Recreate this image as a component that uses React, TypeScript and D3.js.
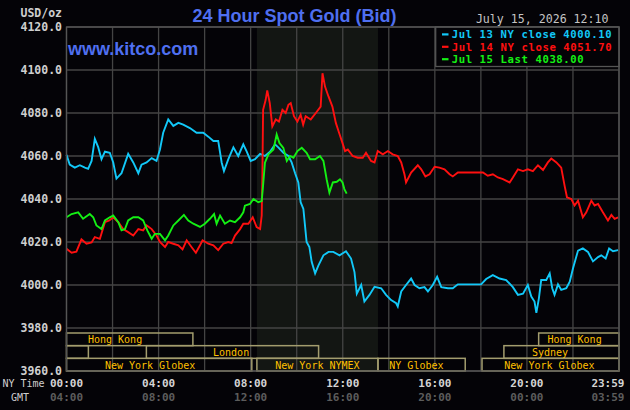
import { useEffect, useRef } from "react";
import * as d3 from "d3";

type Pt = [number, number]; // [NY hour, USD/oz]

const jul13: Pt[] = [
  [0, 4060.5], [0.14, 4056], [0.36, 4054.6], [0.58, 4055.7], [0.8, 4054.6], [0.94, 4054],
  [1.09, 4057.7], [1.23, 4068], [1.38, 4064], [1.52, 4058.5], [1.67, 4062], [1.88, 4061.5],
  [2.03, 4057], [2.17, 4049.5], [2.39, 4052], [2.68, 4061], [2.9, 4057], [3.12, 4052],
  [3.26, 4056], [3.48, 4057], [3.7, 4059], [3.91, 4057.7], [4.06, 4063], [4.2, 4070.8],
  [4.42, 4077], [4.64, 4074], [4.86, 4075.4], [5.07, 4074.6], [5.36, 4073], [5.65, 4070.8],
  [5.94, 4070.8], [6.16, 4069], [6.38, 4067], [6.59, 4067], [6.74, 4057], [6.84, 4053],
  [7.03, 4058.5], [7.25, 4064], [7.46, 4060], [7.68, 4065.4], [7.83, 4062], [8.0, 4057.7],
  [8.19, 4058.5], [8.41, 4061], [8.62, 4060], [8.84, 4062], [9.06, 4065.4], [9.2, 4064],
  [9.42, 4061.5], [9.64, 4060], [9.78, 4057], [9.93, 4052], [10.07, 4047.7], [10.17, 4038.5],
  [10.29, 4035.4], [10.43, 4020], [10.55, 4017.7], [10.65, 4010.8], [10.8, 4005.4], [10.94, 4009],
  [11.16, 4013.8], [11.38, 4015.4], [11.59, 4015.4], [11.86, 4013.8], [12.14, 4015.7], [12.36, 4012.3],
  [12.51, 4006], [12.61, 3996], [12.8, 4000], [12.94, 3992.3], [13.16, 3995.4], [13.38, 3999.2],
  [13.67, 3998.5], [13.88, 3995.4], [14.1, 3993], [14.32, 3991.5], [14.39, 3990], [14.54, 3997],
  [14.75, 4000], [14.97, 4003], [15.12, 4000], [15.33, 3998.5], [15.55, 3999], [15.7, 3997],
  [15.91, 4000], [16.1, 4003.8], [16.28, 3999], [16.57, 3998.5], [16.78, 3998.5], [17.0, 4000.3],
  [18.01, 4000.3], [18.23, 4002.8], [18.52, 4004.6], [18.81, 4003], [19.1, 4002.3], [19.39, 3999],
  [19.61, 3995.4], [19.83, 3996], [20.04, 4000], [20.19, 3994.6], [20.33, 3992.3], [20.41, 3987],
  [20.52, 3993.8], [20.62, 4002.3], [20.84, 4002.3], [20.99, 4005.4], [21.1, 3998.5], [21.2, 3995.4],
  [21.35, 4000.3], [21.49, 3997.7], [21.71, 3998.5], [21.86, 4001.5], [22.0, 4007.7], [22.22, 4016],
  [22.43, 4017], [22.65, 4015.4], [22.87, 4011], [23.09, 4013], [23.23, 4013.8], [23.42, 4012.3],
  [23.57, 4017], [23.74, 4015.7], [23.96, 4016.2],
];

const jul14: Pt[] = [
  [0, 4016.9], [0.22, 4015], [0.43, 4015.5], [0.65, 4021.2], [0.87, 4019.2], [1.09, 4019.8],
  [1.23, 4022.3], [1.45, 4021.5], [1.67, 4029.2], [1.86, 4030], [2.03, 4031.5], [2.25, 4029.2],
  [2.46, 4026], [2.68, 4024.6], [2.9, 4023], [3.12, 4026], [3.33, 4025.4], [3.48, 4027.7],
  [3.7, 4026], [3.91, 4023], [4.06, 4020], [4.28, 4017.7], [4.42, 4020], [4.64, 4019.2],
  [4.86, 4018.5], [5.04, 4016.6], [5.22, 4020.8], [5.43, 4017.7], [5.62, 4015], [5.8, 4018.5],
  [5.91, 4020.8], [6.16, 4019.2], [6.38, 4018.5], [6.59, 4016.2], [6.81, 4019.2], [7.03, 4020],
  [7.17, 4019.5], [7.32, 4023], [7.54, 4026], [7.68, 4028.5], [7.9, 4028.5], [8.09, 4031.5],
  [8.26, 4026.9], [8.41, 4026], [8.48, 4032.3], [8.51, 4052], [8.54, 4081.5], [8.65, 4086],
  [8.72, 4090.5], [8.83, 4084.6], [8.94, 4073.8], [9.09, 4077], [9.23, 4076], [9.38, 4081.5],
  [9.52, 4080], [9.64, 4083.8], [9.74, 4084.6], [9.88, 4078.5], [10.03, 4076], [10.17, 4079.2],
  [10.28, 4074.6], [10.39, 4078.5], [10.61, 4077], [10.83, 4080], [11.04, 4083], [11.12, 4098.5],
  [11.23, 4092.3], [11.38, 4087.7], [11.55, 4083], [11.7, 4075.4], [11.84, 4070.8], [11.99, 4066],
  [12.1, 4062.3], [12.22, 4063], [12.43, 4060], [12.65, 4059.2], [12.87, 4059.2], [13.01, 4061.5],
  [13.23, 4057.7], [13.38, 4057], [13.52, 4062.3], [13.74, 4060.8], [13.96, 4062.3], [14.17, 4060.8],
  [14.39, 4060], [14.54, 4057], [14.68, 4051.5], [14.75, 4047.7], [14.97, 4052.3], [15.26, 4055.7],
  [15.41, 4053.8], [15.59, 4050.5], [15.77, 4051.5], [15.99, 4055], [16.2, 4054.6], [16.42, 4053.8],
  [16.64, 4051.5], [16.78, 4050.5], [17.0, 4052.3], [18.09, 4052.3], [18.3, 4050.8], [18.52, 4051.5],
  [18.74, 4050], [18.96, 4049.2], [19.25, 4047.7], [19.39, 4050], [19.61, 4053.8], [19.83, 4053],
  [20.04, 4053.8], [20.26, 4053], [20.48, 4055.7], [20.7, 4053.5], [20.91, 4057], [21.06, 4058.8],
  [21.28, 4057], [21.49, 4054.6], [21.64, 4046], [21.74, 4040.8], [21.93, 4040], [22.07, 4037],
  [22.22, 4039.2], [22.43, 4031.5], [22.58, 4033.8], [22.8, 4039.2], [22.94, 4037], [23.09, 4037.7],
  [23.3, 4033.8], [23.52, 4030], [23.67, 4032.6], [23.81, 4030.8], [23.96, 4031.5],
];

const jul15: Pt[] = [
  [0, 4031.5], [0.22, 4033], [0.51, 4033.8], [0.72, 4030.8], [1.01, 4033], [1.16, 4031.5],
  [1.3, 4027.7], [1.52, 4026], [1.67, 4030], [1.88, 4031.5], [2.03, 4032.3], [2.25, 4029.2],
  [2.39, 4025.4], [2.54, 4026], [2.68, 4030], [2.9, 4031.5], [3.12, 4031.5], [3.33, 4030],
  [3.51, 4025.4], [3.7, 4021.5], [3.84, 4023.8], [4.06, 4023.8], [4.28, 4020.8], [4.42, 4023],
  [4.64, 4027.7], [4.86, 4030], [5.1, 4032.6], [5.29, 4030], [5.51, 4028.5], [5.8, 4027],
  [6.01, 4028.5], [6.23, 4030.8], [6.41, 4033], [6.52, 4028.5], [6.67, 4032.3], [6.88, 4028.5],
  [7.1, 4030], [7.32, 4029.2], [7.54, 4031.5], [7.68, 4033.8], [7.75, 4036.9], [7.97, 4037.7],
  [8.12, 4040], [8.33, 4038.5], [8.48, 4039], [8.55, 4047.7], [8.62, 4056.9], [8.77, 4060.8],
  [8.99, 4063], [9.13, 4070], [9.25, 4066], [9.42, 4063.8], [9.57, 4057.7], [9.71, 4060],
  [9.86, 4059.2], [10.03, 4062.3], [10.22, 4063.8], [10.43, 4061.5], [10.58, 4058.5], [10.8, 4058.5],
  [11.01, 4060], [11.16, 4057.7], [11.3, 4049.2], [11.42, 4043], [11.57, 4047.7], [11.74, 4048],
  [11.88, 4049.2], [11.99, 4047.7], [12.07, 4044.6], [12.17, 4042.5],
];

const legendItems = [
  { label: "Jul 13 NY close 4000.10", color: "#12c8f8" },
  { label: "Jul 14 NY close 4051.70", color: "#ff1010" },
  { label: "Jul 15 Last 4038.00", color: "#14f014" },
];

const priceTicks = [3960, 3980, 4000, 4020, 4040, 4060, 4080, 4100, 4120];
const gridHours = [0, 2, 4, 6, 8, 10, 12, 14, 16, 18, 20, 22, 24];
const labelHours = [0, 4, 8, 12, 16, 20, 24];
const nyLabels = ["00:00", "04:00", "08:00", "12:00", "16:00", "20:00", "23:59"];
const gmtLabels = ["04:00", "08:00", "12:00", "16:00", "20:00", "00:00", "03:59"];

// trading sessions: row 0 = top band
const sessions = [
  { name: "Hong Kong", row: 0, start: 0, end: 5.49, labelAt: 2.11 },
  { name: "Hong Kong", row: 0, start: 20.51, end: 24, labelAt: 22.07 },
  { name: "", row: 1, start: 0, end: 0.95, labelAt: 0 },
  { name: "London", row: 1, start: 3.47, end: 10.95, labelAt: 7.15 },
  { name: "Sydney", row: 1, start: 19, end: 24, labelAt: 21.0 },
  { name: "New York Globex", row: 2, start: 0, end: 8.05, labelAt: 3.63 },
  { name: "New York NYMEX", row: 2, start: 8.27, end: 13.53, labelAt: 10.9 },
  { name: "NY Globex", row: 2, start: 13.53, end: 17.32, labelAt: 15.2 },
  { name: "New York Globex", row: 2, start: 18.05, end: 24, labelAt: 20.98 },
];
const nymexShade = [8.27, 13.53];

const GoldChart = () => {
  const svgRef = useRef<SVGSVGElement>(null);

  useEffect(() => {
    if (!svgRef.current) return;
    const width = 630;
    const height = 410;
    const left = 66.5;
    const right = 619;
    const top = 27;
    const bottom = 371;
    const bg = "#040307";
    const grid = "#444444";
    const mono = "'DejaVu Sans Mono', 'Liberation Mono', monospace";
    const sans = "'Liberation Sans', Arial, sans-serif";

    const svg = d3.select(svgRef.current);
    svg.selectAll("*").remove();
    svg.attr("width", width).attr("height", height);

    const x = d3.scaleLinear().domain([0, 24]).range([left, right]);
    const y = d3.scaleLinear().domain([3960, 4120]).range([bottom, top]);

    svg.append("rect").attr("width", width).attr("height", height).attr("fill", bg);

    // NYMEX shading
    svg
      .append("rect")
      .attr("x", x(nymexShade[0]))
      .attr("y", top)
      .attr("width", x(nymexShade[1]) - x(nymexShade[0]))
      .attr("height", bottom - top)
      .attr("fill", "#131613");

    // grid
    svg
      .append("g")
      .selectAll("line")
      .data(priceTicks)
      .join("line")
      .attr("x1", left)
      .attr("x2", right)
      .attr("y1", (d) => y(d))
      .attr("y2", (d) => y(d))
      .attr("stroke", grid)
      .attr("stroke-width", 1.3);
    svg
      .append("g")
      .selectAll("line")
      .data(gridHours)
      .join("line")
      .attr("x1", (d) => x(d))
      .attr("x2", (d) => x(d))
      .attr("y1", top)
      .attr("y2", bottom)
      .attr("stroke", grid)
      .attr("stroke-width", 1.3);

    // sessions
    const rowH = (bottom - 333) / 3;
    const sess = svg.append("g");
    sess
      .selectAll("rect")
      .data(sessions)
      .join("rect")
      .attr("x", (d) => x(d.start))
      .attr("y", (d) => 333 + d.row * rowH)
      .attr("width", (d) => x(d.end) - x(d.start))
      .attr("height", rowH)
      .attr("fill", "none")
      .attr("stroke", "#a39d6e")
      .attr("stroke-width", 1.5);
    sess
      .selectAll("text")
      .data(sessions.filter((d) => d.name))
      .join("text")
      .attr("x", (d) => x(d.labelAt))
      .attr("y", (d) => 333 + (d.row + 1) * rowH - 2.5)
      .attr("text-anchor", "middle")
      .attr("fill", "#ffc000")
      .style("font", `10px ${mono}`)
      .text((d) => d.name);

    // lines
    const line = d3
      .line<Pt>()
      .x((d) => x(d[0]))
      .y((d) => y(d[1]));
    [jul13, jul14, jul15].forEach((s, i) => {
      svg
        .append("path")
        .datum(s)
        .attr("d", line)
        .attr("fill", "none")
        .attr("stroke", legendItems[i].color)
        .attr("stroke-width", 1.9)
        .attr("stroke-linejoin", "miter");
    });

    // legend box
    svg
      .append("rect")
      .attr("x", 435.7)
      .attr("y", top)
      .attr("width", right - 435.7)
      .attr("height", 39.5)
      .attr("fill", bg)
      .attr("stroke", "#555")
      .attr("stroke-width", 1.3);
    const leg = svg
      .append("g")
      .selectAll("g")
      .data(legendItems)
      .join("g")
      .attr("transform", (d, i) => `translate(442,${38.3 + i * 12.4})`);
    leg
      .append("rect")
      .attr("x", 0)
      .attr("y", -5)
      .attr("width", 6.5)
      .attr("height", 2.2)
      .attr("fill", (d) => d.color);
    leg
      .append("text")
      .attr("x", 9.7)
      .attr("fill", (d) => d.color)
      .attr("letter-spacing", 0.6)
      .style("font", `bold 10.6px ${mono}`)
      .text((d) => d.label);

    // plot frame
    svg
      .append("rect")
      .attr("x", left)
      .attr("y", top)
      .attr("width", right - left)
      .attr("height", bottom - top)
      .attr("fill", "none")
      .attr("stroke", "#555")
      .attr("stroke-width", 1.3);

    // y labels
    svg
      .append("g")
      .selectAll("text")
      .data(priceTicks)
      .join("text")
      .attr("x", 62)
      .attr("y", (d) => y(d))
      .attr("dy", "0.35em")
      .attr("text-anchor", "end")
      .attr("fill", "#cfcfcf")
      .style("font", `bold 11.5px ${mono}`)
      .text((d) => d3.format(".1f")(d));
    svg
      .append("text")
      .attr("x", 62)
      .attr("y", 17)
      .attr("text-anchor", "end")
      .attr("fill", "#cfcfcf")
      .style("font", `bold 11.5px ${mono}`)
      .text("USD/oz");

    // x labels
    const xl = svg.append("g");
    xl.selectAll("text.ny")
      .data(labelHours)
      .join("text")
      .attr("class", "ny")
      .attr("x", (d) => (d === 24 ? x(d) + 5.5 : x(d)))
      .attr("y", 387)
      .attr("text-anchor", (d) => (d === 24 ? "end" : "middle"))
      .attr("fill", "#d4d4d4")
      .style("font", `bold 11px ${mono}`)
      .text((d, i) => nyLabels[i]);
    xl.selectAll("text.gmt")
      .data(labelHours)
      .join("text")
      .attr("class", "gmt")
      .attr("x", (d) => (d === 24 ? x(d) + 5.5 : x(d)))
      .attr("y", 401)
      .attr("text-anchor", (d) => (d === 24 ? "end" : "middle"))
      .attr("fill", "#5c5c5c")
      .style("font", `bold 11px ${mono}`)
      .text((d, i) => gmtLabels[i]);
    xl.append("text")
      .attr("x", 2.5)
      .attr("y", 387)
      .attr("fill", "#cfcfcf")
      .style("font", `10px ${mono}`)
      .text("NY Time");
    xl.append("text")
      .attr("x", 11)
      .attr("y", 401)
      .attr("fill", "#cfcfcf")
      .style("font", `10px ${mono}`)
      .text("GMT");

    // titles
    svg
      .append("text")
      .attr("x", 294.5)
      .attr("y", 22)
      .attr("text-anchor", "middle")
      .attr("fill", "#4f6ff0")
      .style("font", `bold 18px ${sans}`)
      .text("24 Hour Spot Gold (Bid)");
    svg
      .append("text")
      .attr("x", 68)
      .attr("y", 55)
      .attr("fill", "#4f6ff0")
      .style("font", `bold 18px ${sans}`)
      .text("www.kitco.com");
    svg
      .append("text")
      .attr("x", 608.5)
      .attr("y", 23)
      .attr("text-anchor", "end")
      .attr("fill", "#c4c4c4")
      .style("font", `11.6px ${mono}`)
      .text("July 15, 2026 12:10");
  }, []);

  return (
    <div style={{ position: "absolute", left: 0, top: 0 }}>
      <svg ref={svgRef} style={{ display: "block" }}></svg>
    </div>
  );
};

export default GoldChart;
